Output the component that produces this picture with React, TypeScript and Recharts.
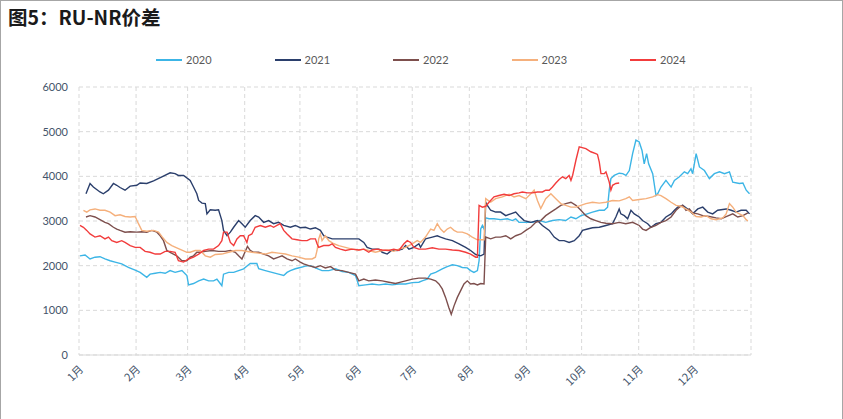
import { LineChart, Line, XAxis, YAxis, CartesianGrid } from "recharts";

// 横轴为一年中的第几天（0 = 1月1日）
const monthStarts = [0, 31, 59, 90, 120, 151, 181, 212, 243, 273, 304, 334, 365];
const monthLabels = ["1月", "2月", "3月", "4月", "5月", "6月", "7月", "8月", "9月", "10月", "11月", "12月"];
const yTicks = [0, 1000, 2000, 3000, 4000, 5000, 6000];

const days2020 = [0.5, 3.3, 6, 8.7, 11.4, 14.1, 16.9, 19.6, 23.2, 26.8, 30.5, 33.2, 36.8, 38.6, 41.4, 44.1, 46.8, 49.5, 52.2, 55.9, 58.6, 59.5, 62.2, 65, 67.7, 70.4, 73.1, 74.9, 76.7, 77.6, 78.5, 81.3, 84, 86.7, 89.4, 92.1, 93, 96.6, 97.6, 101.2, 104.8, 108.4, 111.2, 113, 114.8, 117.5, 120.2, 123, 125.7, 128.4, 132, 135.7, 139.3, 142.9, 146.5, 150.2, 152, 155.6, 159.2, 162.9, 166.5, 170.1, 173.7, 177.4, 181, 184.6, 186.4, 189.1, 191, 193.7, 197.3, 200, 202.8, 205.5, 208.2, 210.9, 212.7, 214.5, 216.4, 217.3, 218.2, 219.1, 220, 220.9, 222.7, 225.4, 229, 232.7, 235.4, 237.2, 239, 242.7, 246.3, 249.9, 253.5, 257.2, 260.8, 264.4, 267.2, 269.9, 272.6, 275.3, 278.9, 282.6, 285.3, 287.1, 288, 288.9, 290.7, 293.4, 295.3, 297.1, 298.9, 300.7, 302.5, 304.3, 305.8, 307, 308.3, 309.4, 311.6, 313.4, 314.3, 316.1, 318.8, 321.6, 323.4, 326.1, 328.8, 330.6, 332.4, 333.3, 335.2, 337, 339.7, 342.4, 345.1, 347.9, 350.6, 353.3, 355.1, 358.7, 360.6, 362.4, 364.2];
const vals2020 = [2220, 2240, 2150, 2190, 2200, 2150, 2110, 2080, 2040, 1960, 1900, 1850, 1740, 1810, 1830, 1850, 1830, 1890, 1850, 1890, 1780, 1570, 1600, 1660, 1700, 1660, 1660, 1700, 1600, 1550, 1810, 1850, 1850, 1890, 1930, 2020, 2050, 2050, 1930, 1890, 1850, 1810, 1780, 1850, 1890, 1930, 1960, 1990, 2000, 1950, 1890, 1890, 1930, 1870, 1850, 1780, 1550, 1570, 1590, 1570, 1590, 1570, 1590, 1590, 1620, 1630, 1660, 1700, 1810, 1850, 1930, 1980, 2020, 2000, 1960, 1950, 1890, 1850, 1890, 2110, 2820, 2900, 2820, 3070, 3050, 3050, 3030, 3050, 3010, 3050, 2970, 2970, 2970, 3010, 2970, 3010, 3030, 3010, 3090, 3050, 3120, 3150, 3200, 3240, 3240, 3310, 3690, 3950, 4020, 4070, 4060, 4020, 4130, 4510, 4810, 4770, 4580, 4280, 4510, 4280, 4060, 3570, 3610, 3760, 3910, 3760, 3910, 3990, 4100, 4060, 4170, 4060, 4510, 4210, 4130, 3950, 4060, 4100, 4060, 4100, 3870, 3840, 3850, 3690, 3610];

const days2021 = [3.8, 6, 7.8, 11.4, 13.2, 16, 18.7, 20.5, 22.3, 25, 27.8, 31.4, 33.2, 36.8, 40.5, 45, 49.5, 52.2, 54, 56.8, 60.4, 62.2, 64, 65, 66.8, 68.6, 69.5, 71.3, 74, 75.8, 77.6, 78.5, 80.4, 82.2, 84, 86.7, 88.5, 90.3, 93, 95.7, 97.6, 100.3, 103, 105.7, 108.4, 111.2, 114.8, 117.5, 120.2, 123, 125.7, 128.4, 131.1, 132.9, 134.7, 137.5, 142.9, 148.3, 152, 154.7, 156.5, 159.2, 162.9, 164.7, 167.4, 170.1, 172.8, 175.6, 177.4, 179.2, 181.9, 184.6, 185.5, 188.2, 191.9, 194.6, 196.4, 199.1, 202.8, 206.4, 210, 212.7, 215.5, 218.2, 220, 220.9, 221.8, 223.6, 226.3, 229, 231.8, 234.5, 237.2, 239, 241.8, 245.4, 249, 251.7, 255.4, 258.1, 260.8, 263.5, 266.2, 269, 271.7, 273.5, 276.2, 278.9, 282.6, 286.2, 289.8, 291.6, 293.4, 294.3, 296.2, 298, 299.8, 301.6, 304.3, 306.1, 308.9, 310.7, 313.4, 316.1, 318.8, 321.6, 323.4, 325.2, 327.9, 330.6, 333.3, 336.1, 338.8, 341.5, 344.2, 346.9, 351.5, 354.2, 356.9, 359.6, 362.4, 364.2];
const vals2021 = [3610, 3840, 3760, 3650, 3610, 3690, 3840, 3800, 3750, 3690, 3780, 3800, 3850, 3840, 3900, 3990, 4080, 4060, 4020, 4020, 3910, 3760, 3610, 3460, 3400, 3390, 3160, 3250, 3240, 3250, 3010, 2790, 2670, 2750, 2860, 3010, 2940, 2860, 3010, 3120, 3090, 2970, 3010, 2940, 2970, 2900, 2860, 2900, 2850, 2860, 2820, 2850, 2790, 2670, 2640, 2600, 2600, 2600, 2600, 2520, 2410, 2370, 2370, 2300, 2260, 2350, 2340, 2370, 2450, 2370, 2410, 2490, 2410, 2600, 2640, 2670, 2640, 2600, 2560, 2490, 2410, 2340, 2250, 2220, 2260, 3420, 3350, 3240, 3200, 3200, 3120, 3160, 3200, 3120, 3010, 2970, 3010, 2900, 2790, 2640, 2560, 2560, 2520, 2560, 2670, 2790, 2820, 2850, 2860, 2900, 2940, 3090, 3270, 3160, 3120, 3050, 3240, 3160, 3090, 3010, 2940, 2860, 2940, 2970, 3090, 3160, 3240, 3310, 3350, 3270, 3160, 3270, 3310, 3200, 3160, 3240, 3270, 3240, 3200, 3240, 3240, 3160];

const days2022 = [3.8, 6, 8.7, 11.4, 14.1, 16, 18.7, 20.5, 22.3, 25, 27.8, 31.4, 34.1, 36.8, 39.5, 42.3, 44.1, 45.9, 47.7, 49.5, 51.3, 53.1, 55.9, 58.6, 60.4, 62.2, 64, 65.8, 68.6, 72.2, 75.8, 79.4, 82.2, 84.9, 86.7, 88.5, 91.5, 93, 94.8, 97.6, 100.3, 103, 105.7, 108.4, 110.3, 113, 115.7, 117.5, 120.2, 122, 124.8, 128.4, 131.1, 133.8, 136.6, 139.3, 142.9, 146.5, 150.2, 152, 154.7, 157.4, 161, 164.7, 168.3, 171.9, 174.7, 177.4, 181, 184.6, 188.2, 191, 193.7, 195.5, 197.3, 199.1, 200.9, 202.2, 203.7, 205.5, 207.3, 209.1, 210.9, 212.7, 214.5, 216.4, 218.2, 220, 220.9, 223.6, 226.3, 229, 231.8, 234.5, 237.2, 240, 242.7, 245.4, 248.1, 250.8, 253.5, 256.3, 259, 261.7, 264.4, 267.2, 269.9, 272.6, 275.3, 278, 280.7, 283.5, 286.2, 289.8, 293.4, 297, 300.7, 304.3, 306.1, 308, 310.7, 313.4, 316.1, 318.8, 321.6, 324.3, 326.1, 327.9, 329.7, 331.5, 333.3, 336.1, 338.8, 342.4, 346, 348.8, 351.5, 355.1, 357.8, 360.6, 363.3];
const vals2022 = [3090, 3120, 3090, 3030, 2970, 2940, 2860, 2820, 2790, 2750, 2760, 2750, 2760, 2750, 2790, 2750, 2670, 2560, 2340, 2300, 2260, 2220, 2110, 2110, 2190, 2220, 2300, 2300, 2320, 2340, 2320, 2320, 2340, 2300, 2220, 2150, 2430, 2340, 2300, 2300, 2260, 2220, 2150, 2190, 2220, 2150, 2110, 2150, 2080, 2040, 2000, 1960, 2000, 1950, 1980, 1900, 1890, 1850, 1810, 1660, 1700, 1660, 1680, 1660, 1630, 1600, 1630, 1660, 1700, 1720, 1720, 1700, 1660, 1590, 1480, 1290, 1060, 910, 1100, 1290, 1440, 1590, 1660, 1590, 1600, 1570, 1600, 1590, 2640, 2600, 2640, 2640, 2670, 2600, 2670, 2710, 2790, 2860, 2970, 3010, 3120, 3200, 3270, 3350, 3390, 3420, 3350, 3240, 3120, 3050, 3010, 2970, 2950, 2940, 2970, 2940, 2970, 2900, 2820, 2790, 2860, 2900, 2970, 3010, 3090, 3240, 3310, 3350, 3240, 3270, 3180, 3160, 3120, 3100, 3070, 3050, 3100, 3160, 3090, 3120, 3180];

const days2023 = [2.4, 4.2, 6, 8.7, 11.4, 14.1, 16.9, 19.6, 22.3, 25, 27.8, 30.5, 32.3, 34.1, 36.8, 40.5, 43.2, 45.3, 47.7, 50.4, 53.1, 55.9, 58.6, 60.4, 63.1, 65.8, 68.6, 71.3, 74, 77.6, 81.3, 84.9, 88.5, 93.9, 97.6, 101.2, 104.8, 108.4, 112.1, 115.7, 119.3, 123, 126.6, 128.4, 129.3, 130.2, 131.1, 132, 133.8, 135.7, 138.4, 141.1, 144.7, 148.3, 152, 154.7, 157.4, 161, 164.7, 168.3, 171, 173.7, 177.4, 181, 183.7, 185.5, 188.2, 191, 192.8, 194.6, 196.4, 198.2, 200, 201.8, 203.7, 205.5, 208.2, 210.9, 213.6, 216.4, 220, 220.9, 223.6, 226.3, 230, 233.6, 236.3, 239, 242.7, 245.4, 247.2, 249, 250.8, 253.5, 256.3, 259, 261.7, 264.4, 267.2, 269.9, 272.6, 275.3, 278.9, 282.6, 286.2, 289.8, 293.4, 297, 298.9, 300.7, 304.3, 308, 311.6, 314.3, 316.1, 318.8, 321.6, 324.3, 327, 329.7, 332.4, 335.2, 337.9, 340.6, 343.3, 346, 349.7, 351.5, 353.3, 355.1, 356.9, 358.7, 360.6, 362.4, 363.3];
const vals2023 = [3240, 3200, 3250, 3270, 3240, 3240, 3200, 3120, 3140, 3100, 3090, 3100, 2940, 2790, 2770, 2790, 2750, 2640, 2520, 2450, 2400, 2350, 2300, 2300, 2340, 2340, 2220, 2190, 2250, 2260, 2300, 2340, 2340, 2300, 2280, 2260, 2300, 2280, 2260, 2220, 2190, 2150, 2150, 2190, 2340, 2600, 2710, 2560, 2670, 2560, 2490, 2450, 2410, 2370, 2350, 2370, 2340, 2300, 2340, 2350, 2320, 2370, 2410, 2490, 2560, 2520, 2640, 2820, 2790, 2940, 2820, 2750, 2820, 2860, 2790, 2750, 2750, 2710, 2640, 2580, 2580, 3500, 3420, 3500, 3540, 3600, 3540, 3570, 3500, 3610, 3690, 3460, 3280, 3500, 3610, 3500, 3390, 3350, 3310, 3310, 3350, 3390, 3420, 3400, 3420, 3460, 3450, 3500, 3540, 3460, 3480, 3500, 3540, 3590, 3570, 3500, 3420, 3350, 3330, 3270, 3200, 3100, 3090, 3120, 3050, 3030, 3070, 3160, 3390, 3310, 3200, 3160, 3120, 3030, 3000];

const days2024 = [0.5, 2.4, 4.2, 6, 8.7, 11.4, 14.1, 16, 17.8, 20.5, 23.2, 25, 27.8, 30.5, 33.2, 35.9, 38.6, 41.4, 44.1, 46.8, 49.5, 52.2, 54, 56.8, 59.5, 62.2, 65, 67.7, 70.4, 73.1, 75.8, 77.6, 78.5, 80.4, 82.2, 84, 85.8, 87.6, 89.4, 91.2, 92.1, 93.9, 95.7, 98.5, 101.2, 103.9, 105.7, 107.5, 109.3, 111.2, 113, 115.7, 118.4, 121.1, 123.9, 125.7, 128.4, 129.3, 130.2, 132.9, 135.7, 137.5, 139.3, 142, 144.7, 148.3, 152, 154.7, 157.4, 159.2, 162, 164.7, 168.3, 171, 173.7, 176.5, 178.3, 180.1, 181.9, 184.6, 188.2, 191.9, 195.5, 199.1, 202.8, 206.4, 210, 212.7, 215.5, 216.4, 217.3, 219.1, 220.9, 222.7, 225.4, 228.1, 230.9, 233.6, 236.3, 239, 240.8, 243.6, 246.3, 249, 251.7, 253.5, 255.4, 257.2, 259, 260.8, 262.6, 264.4, 266.2, 267.2, 268.1, 269.9, 271.7, 275.3, 278, 280.7, 281.6, 282.6, 283.5, 285.3, 286.2, 287.1, 288, 288.9, 289.8, 291.6, 293.4];
const vals2024 = [2900, 2860, 2790, 2710, 2640, 2670, 2600, 2640, 2560, 2520, 2560, 2520, 2450, 2410, 2410, 2320, 2300, 2260, 2260, 2320, 2320, 2300, 2110, 2080, 2150, 2190, 2260, 2340, 2370, 2370, 2450, 2560, 2750, 2750, 2520, 2450, 2600, 2670, 2670, 2520, 2670, 2710, 2860, 2900, 2860, 2900, 2860, 2900, 2940, 2790, 2710, 2600, 2580, 2560, 2560, 2600, 2600, 2490, 2410, 2450, 2450, 2490, 2410, 2370, 2340, 2370, 2350, 2370, 2300, 2350, 2370, 2350, 2340, 2370, 2340, 2490, 2560, 2520, 2410, 2370, 2370, 2400, 2370, 2370, 2350, 2340, 2300, 2260, 2190, 2190, 3350, 3310, 3330, 3420, 3540, 3570, 3600, 3570, 3610, 3630, 3650, 3630, 3630, 3650, 3650, 3690, 3690, 3760, 3850, 3930, 3990, 3950, 4020, 3910, 4020, 4360, 4660, 4620, 4550, 4510, 4490, 4320, 4060, 4060, 4100, 3990, 3870, 3690, 3800, 3840, 3850];

const toPoints = (days: number[], vals: number[]) => days.map((d, i) => ({ d, v: vals[i] }));

const series = [
  { name: "2020", color: "#3cb5e6", data: toPoints(days2020, vals2020) },
  { name: "2021", color: "#2b3f6c", data: toPoints(days2021, vals2021) },
  { name: "2022", color: "#7d4f4d", data: toPoints(days2022, vals2022) },
  { name: "2023", color: "#f5b07c", data: toPoints(days2023, vals2023) },
  { name: "2024", color: "#f23c3c", data: toPoints(days2024, vals2024) },
];

const axisColor = "#44546a";

function MonthTick(props: any) {
  const { x, y, payload } = props;
  const idx = monthStarts.indexOf(payload.value);
  if (idx < 0 || idx >= monthLabels.length) return <g />;
  return (
    <text
      transform={`translate(${x + 5},${y + 7}) rotate(-45)`}
      textAnchor="end"
      fontSize={11}
      fill={axisColor}
      fontFamily="'Noto Sans CJK SC', sans-serif"
    >
      {monthLabels[idx]}
    </text>
  );
}

export default function App() {
  return (
    <div
      style={{
        position: "fixed",
        left: 0,
        top: 0,
        width: 841,
        height: 418,
        background: "#fff",
        borderTop: "1px solid #a6a6a6",
        borderLeft: "1px solid #a6a6a6",
        borderRight: "1px solid #a6a6a6",
        overflow: "hidden",
      }}
    >
      <div
        style={{
          position: "absolute",
          left: 7,
          top: 1,
          fontFamily: "'Noto Sans CJK SC', sans-serif",
          fontWeight: 700,
          fontSize: 19.5,
          color: "#1a1a1a",
          whiteSpace: "nowrap",
        }}
      >
        图5：RU-NR价差
      </div>
      <div style={{ position: "absolute", left: 0, top: 0 }}>
        <LineChart width={843} height={419} margin={{ top: 86, right: 93, bottom: 25, left: 28 }}>
          <CartesianGrid stroke="#d9d9d9" strokeDasharray="4 3" vertical horizontal />
          <XAxis
            dataKey="d"
            type="number"
            domain={[0, 365]}
            ticks={monthStarts}
            interval={0}
            tick={<MonthTick />}
            tickLine={false}
            axisLine={{ stroke: "#d9d9d9" }}
            height={40}
            allowDataOverflow
          />
          <YAxis
            domain={[0, 6000]}
            ticks={yTicks}
            interval={0}
            width={50}
            tickLine={false}
            axisLine={false}
            tickMargin={5}
            tick={{ fontSize: 11, fill: axisColor, fontFamily: "Lato, sans-serif" }}
          />
          {series.map((s) => (
            <Line
              key={s.name}
              data={s.data}
              dataKey="v"
              name={s.name}
              type="linear"
              stroke={s.color}
              strokeWidth={1.4}
              dot={false}
              activeDot={false}
              isAnimationActive={false}
            />
          ))}
        </LineChart>
      </div>
      {/* 图例 */}
      {series.map((s, i) => (
        <div
          key={s.name}
          style={{
            position: "absolute",
            left: 155 + i * 118.5,
            top: 52,
            display: "flex",
            alignItems: "center",
            fontFamily: "Lato, sans-serif",
            fontSize: 11,
            color: "#595959",
          }}
        >
          <span style={{ display: "inline-block", width: 26, height: 2, background: s.color, marginRight: 4 }} />
          {s.name}
        </div>
      ))}
    </div>
  );
}
